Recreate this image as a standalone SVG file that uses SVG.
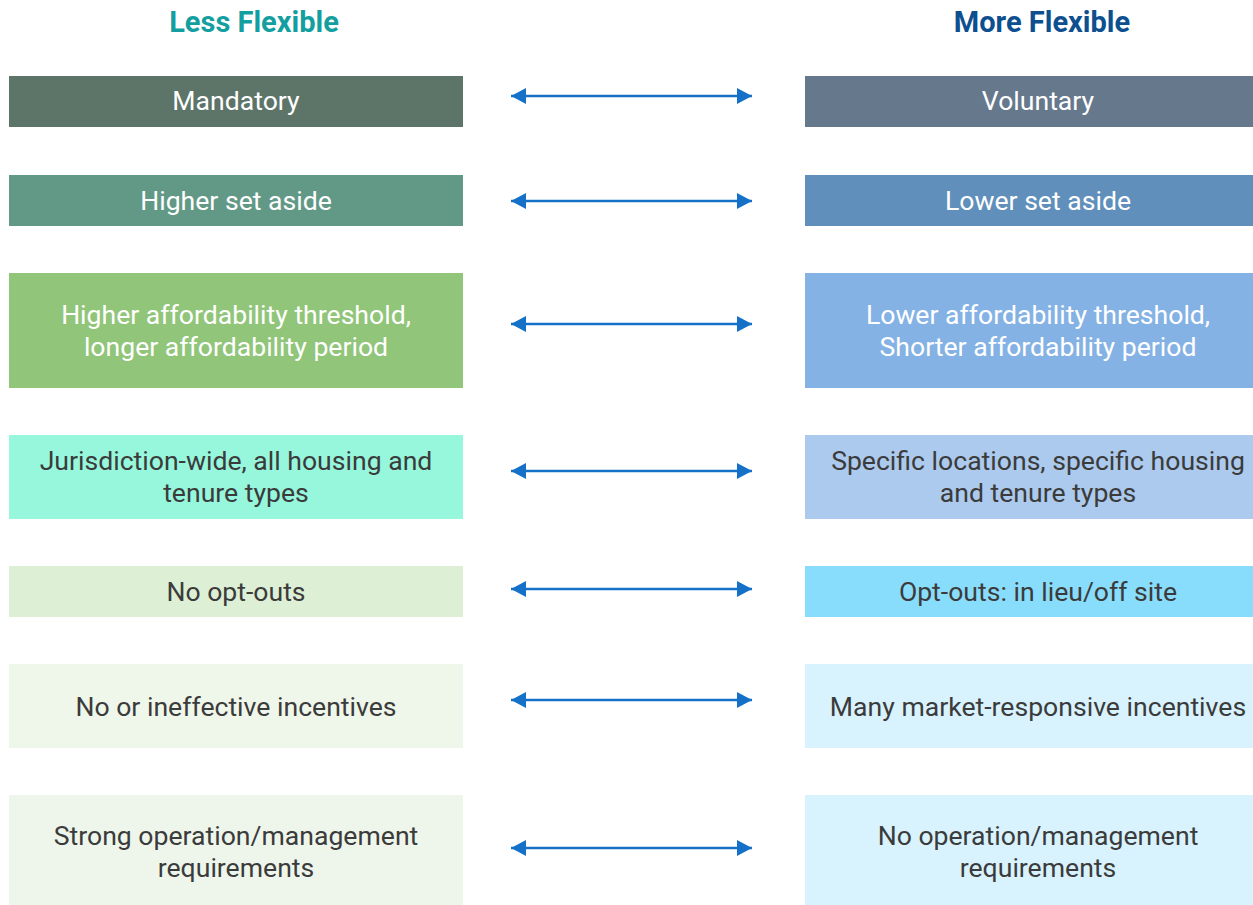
<svg xmlns="http://www.w3.org/2000/svg" width="1253" height="905" viewBox="0 0 1253 905">
  <style>
    text { font-family: Roboto, "Liberation Sans", sans-serif; text-anchor: middle; }
    .title { font-size: 29px; font-weight: bold; }
    .lbl { font-size: 26.6px; }
    .light { fill: #ffffff; }
    .dark { fill: #3b3b3b; }
    .conn line { stroke: #1570c8; stroke-width: 2.6; }
  </style>
  <defs>
    <marker id="head" viewBox="0 0 15 16" refX="15" refY="8" markerWidth="15" markerHeight="16" markerUnits="userSpaceOnUse" orient="auto-start-reverse">
      <path d="M0,0 L15,8 L0,16 Z" fill="#1570c8"/>
    </marker>
  </defs>
  <rect width="1253" height="905" fill="#ffffff"/>

  <text class="title" x="254" y="32" fill="#139e9f">Less Flexible</text>
  <text class="title" x="1042" y="32" fill="#0d4f8f">More Flexible</text>

  <g id="left-mandatory">
    <rect x="9" y="76" width="454" height="51" fill="#5d7469"/>
    <text class="lbl light" x="236" y="110">Mandatory</text>
  </g>
  <g id="right-voluntary">
    <rect x="805" y="76" width="448" height="51" fill="#65788c"/>
    <text class="lbl light" x="1038" y="110">Voluntary</text>
  </g>

  <g id="left-setaside">
    <rect x="9" y="175" width="454" height="51" fill="#629986"/>
    <text class="lbl light" x="236" y="210">Higher set aside</text>
  </g>
  <g id="right-setaside">
    <rect x="805" y="175" width="448" height="51" fill="#5f8fba"/>
    <text class="lbl light" x="1038" y="210">Lower set aside</text>
  </g>

  <g id="left-affordability">
    <rect x="9" y="273" width="454" height="115" fill="#90c57a"/>
    <text class="lbl light" x="236" y="324">Higher affordability threshold,</text>
    <text class="lbl light" x="236" y="356">longer affordability period</text>
  </g>
  <g id="right-affordability">
    <rect x="805" y="273" width="448" height="115" fill="#85b2e4"/>
    <text class="lbl light" x="1038" y="324">Lower affordability threshold,</text>
    <text class="lbl light" x="1038" y="356">Shorter affordability period</text>
  </g>

  <g id="left-scope">
    <rect x="9" y="435" width="454" height="84" fill="#96f7dc"/>
    <text class="lbl dark" x="236" y="470">Jurisdiction-wide, all housing and</text>
    <text class="lbl dark" x="236" y="502">tenure types</text>
  </g>
  <g id="right-scope">
    <rect x="805" y="435" width="448" height="84" fill="#abcaed"/>
    <text class="lbl dark" x="1038" y="470">Specific locations, specific housing</text>
    <text class="lbl dark" x="1038" y="502">and tenure types</text>
  </g>

  <g id="left-optouts">
    <rect x="9" y="566" width="454" height="51" fill="#ddf0d5"/>
    <text class="lbl dark" x="236" y="601">No opt-outs</text>
  </g>
  <g id="right-optouts">
    <rect x="805" y="566" width="448" height="51" fill="#89ddfc"/>
    <text class="lbl dark" x="1038" y="601">Opt-outs: in lieu/off site</text>
  </g>

  <g id="left-incentives">
    <rect x="9" y="664" width="454" height="84" fill="#eff6ea"/>
    <text class="lbl dark" x="236" y="716">No or ineffective incentives</text>
  </g>
  <g id="right-incentives">
    <rect x="805" y="664" width="448" height="84" fill="#d8f3fe"/>
    <text class="lbl dark" x="1038" y="716">Many market-responsive incentives</text>
  </g>

  <g id="left-management">
    <rect x="9" y="795" width="454" height="110" fill="#eef6eb"/>
    <text class="lbl dark" x="236" y="845">Strong operation/management</text>
    <text class="lbl dark" x="236" y="877">requirements</text>
  </g>
  <g id="right-management">
    <rect x="805" y="795" width="448" height="110" fill="#d8f3fe"/>
    <text class="lbl dark" x="1038" y="845">No operation/management</text>
    <text class="lbl dark" x="1038" y="877">requirements</text>
  </g>

  <g id="connectors" class="conn">
    <line x1="511" y1="96" x2="752" y2="96" marker-start="url(#head)" marker-end="url(#head)"/>
    <line x1="511" y1="201" x2="752" y2="201" marker-start="url(#head)" marker-end="url(#head)"/>
    <line x1="511" y1="324" x2="752" y2="324" marker-start="url(#head)" marker-end="url(#head)"/>
    <line x1="511" y1="471" x2="752" y2="471" marker-start="url(#head)" marker-end="url(#head)"/>
    <line x1="511" y1="589" x2="752" y2="589" marker-start="url(#head)" marker-end="url(#head)"/>
    <line x1="511" y1="700" x2="752" y2="700" marker-start="url(#head)" marker-end="url(#head)"/>
    <line x1="511" y1="848" x2="752" y2="848" marker-start="url(#head)" marker-end="url(#head)"/>
  </g>
</svg>
